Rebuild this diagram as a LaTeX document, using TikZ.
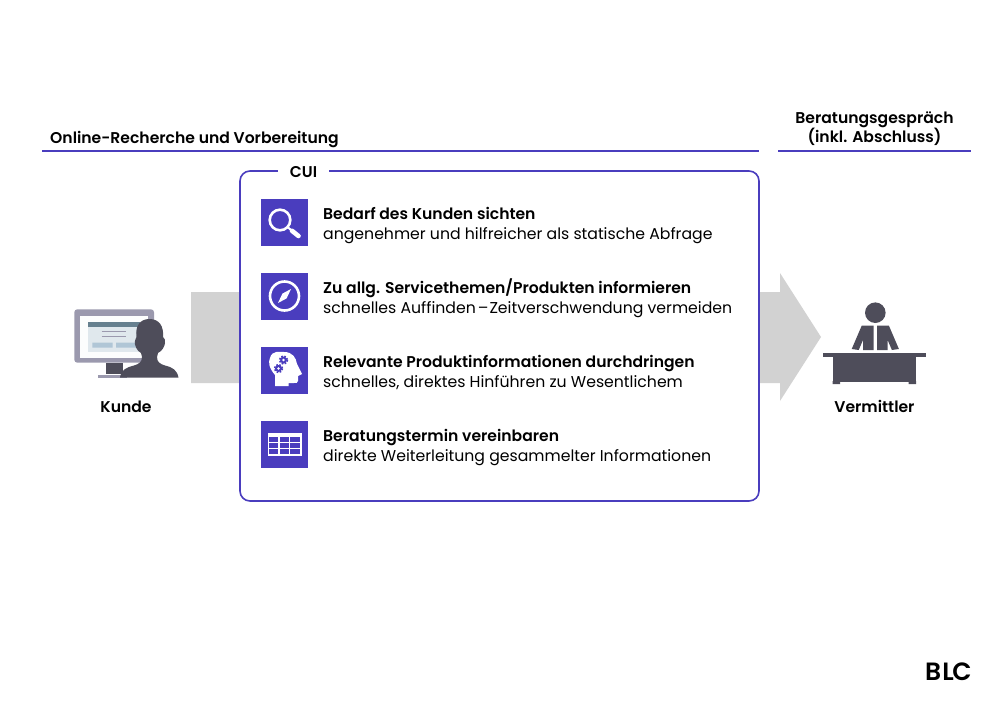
\documentclass[tikz,border=0pt]{standalone}
\usepackage{fontspec}
\setmainfont{Poppins}[BoldFont={Poppins SemiBold}]
\usetikzlibrary{positioning}
\definecolor{cuiblue}{HTML}{4A3DBE}
\definecolor{arrowgray}{HTML}{D2D2D2}
\definecolor{figdark}{HTML}{4E4D5A}
\definecolor{figgray}{HTML}{9B99AE}
\definecolor{screenbar}{HTML}{66808F}
\definecolor{screenpanel}{HTML}{E0E8ED}
\definecolor{screenbtn}{HTML}{B0C6D6}
\tikzset{
  head/.style={anchor=base west,inner sep=0,font=\fontsize{15.6}{19}\selectfont\bfseries,text=black},
  headc/.style={anchor=base,inner sep=0,font=\fontsize{15.6}{19}\selectfont\bfseries,text=black},
  sub/.style={anchor=base west,inner sep=0,font=\fontsize{15.7}{19}\selectfont,text=black},
  iconbox/.style={fill=cuiblue,minimum size=47pt,inner sep=0,outer sep=0},
  rulestyle/.style={draw=cuiblue,line width=1.1pt}
}
\begin{document}
\begin{tikzpicture}[x=1pt,y=-1pt,line join=round]
  \useasboundingbox (0,0) rectangle (1000,707);
  % gray arrow behind the box
  \fill[arrowgray] (191,292)--(780,292)--(780,273)--(821,337)--(780,401)--(780,383)--(191,383)--cycle;
  % phase headings
  \node[head](online) at (50,143) {Online-Recherche und Vorbereitung};
  \node[headc](beratung) at (874.5,123) {Beratungsgespräch};
  \node[headc,below=5pt of beratung.base](inkl) {(inkl. Abschluss)};
  \coordinate (r1a) at (42,151);
  \coordinate (r1b) at (759,151);
  \coordinate (r2a) at (778,151);
  \coordinate (r2b) at (971,151);
  \draw[rulestyle] (r1a)--(r1b);
  \draw[rulestyle] (r2a)--(r2b);
  % main box
  \node[draw=cuiblue,fill=white,line width=1.6pt,rounded corners=10pt,minimum width=519pt,minimum height=330pt,inner sep=0](cui) at (499.5,336) {};
  \node[fill=white,inner sep=0,minimum width=51pt,minimum height=6pt,font=\fontsize{15.6}{19}\selectfont\bfseries](cuilabel) at (303.5,172) {CUI};
  % icon column
  \node[iconbox](icon1) at (284.5,222.5) {};
  \node[iconbox,below=27pt of icon1](icon2) {};
  \node[iconbox,below=27pt of icon2](icon3) {};
  \node[iconbox,below=27pt of icon3](icon4) {};
  % lupe
  \draw[white,line width=2.6pt] (280,220) circle (10.3);
  \draw[white,line width=4.6pt,line cap=round] (292,230.8)--(298.5,236);
  \draw[white,line width=2pt] (287.5,227)--(292,230.8);
  % compass
  \draw[white,line width=2.6pt] (284.5,296) circle (14.5);
  \fill[white] (291,289)--(286.6,298.4)--(278,303)--(282.4,293.6)--cycle;
  % head with gears
  \fill[white] (275,386)--(275,375) .. controls (269,368) and (268,362) .. (270,358)
    .. controls (272,350) and (280,352) .. (284,352) .. controls (293,352) and (296,358) .. (297,364)
    --(302,374)--(298,376)--(298,381) .. controls (298,383) and (296,383) .. (294,383)--(288.5,383)--(288.5,386)--cycle;
  \foreach \gx/\gy in {283.5/360,278.5/368.5}{
    \fill[cuiblue] (\gx,\gy) circle (3.4);
    \draw[cuiblue,line width=1.6pt,dash pattern=on 1.7pt off 1.5pt] (\gx,\gy) circle (4);
    \fill[white] (\gx,\gy) circle (1.3);
  }
  % table
  \fill[white] (267.5,433)rectangle(301.5,456);
  \foreach \cx in {269,279.7,290.4}{
    \foreach \cy in {437,443.2,449.4}{
      \fill[cuiblue] (\cx,\cy) rectangle ++(9.2,4.9);
    }
  }
  % texts beside the icons
  \node[head](t1) at (323,219) {Bedarf des Kunden sichten};
  \node[sub](s1) at (323,239) {angenehmer und hilfreicher als statische Abfrage};
  \node[head](t2) at (323,293) {Zu allg. Servicethemen/Produkten informieren};
  \node[sub](s2) at (323,313) {schnelles Auffinden\kern2pt–\kern1pt Zeitverschwendung vermeiden};
  \node[head](t3) at (323,367) {Relevante Produktinformationen durchdringen};
  \node[sub](s3) at (323,387) {schnelles, direktes Hinführen zu Wesentlichem};
  \node[head](t4) at (323,441) {Beratungstermin vereinbaren};
  \node[sub](s4) at (323,461) {direkte Weiterleitung gesammelter Informationen};
  % customer at the screen
  \fill[figgray,rounded corners=3pt] (74.3,309.3) rectangle (154,362.7);
  \fill[white!92!screenpanel] (80,316) rectangle (148.3,358.3);
  \fill[screenpanel] (88.3,326.7) rectangle (140,351.7);
  \fill[screenbar] (88.3,322) rectangle (140,326.7);
  \draw[figgray,line width=1pt] (101.7,331.7)--(125.7,331.7) (101.7,336)--(125.7,336);
  \fill[screenbtn] (92.3,342.7) rectangle (112.7,347.7) (116,342.7) rectangle (137,347.7);
  \fill[figdark] (106,362.7) rectangle (123,374);
  \fill[figgray] (98.3,375) rectangle (127,377.7);
  \fill[figdark] (120,377.6) .. controls (121,370) and (126,367.5) .. (134,365.5)
    .. controls (139,364) and (142,362) .. (142,357) -- (141,353)
    .. controls (137,351) and (134,345) .. (135,341) .. controls (135.5,339) and (136,338) .. (136.5,337)
    .. controls (135,326) and (140,319) .. (149.5,319) .. controls (159,319) and (164,326) .. (163,337)
    .. controls (164,338) and (166,340) .. (165,343) .. controls (164.5,347) and (162,351) .. (158,353)
    -- (157,357) .. controls (157,362) and (160,364) .. (165,365.5)
    .. controls (173,367.5) and (177,370) .. (178.5,377.6) -- cycle;
  \node[headc](kunde) at (126,412) {Kunde};
  % agent at the desk
  \fill[figdark] (875.3,312.7) circle (10.3);
  \fill[figdark] (861.7,325.7)--(873.5,325.7)--(873.5,350)--(863,350)--(863,340)--(858.7,350)--(851.7,349)--cycle;
  \fill[figdark] (888.9,325.7)--(877.1,325.7)--(877.1,350)--(887.6,350)--(887.6,340)--(891.9,350)--(898.9,349)--cycle;
  \fill[figdark] (823.3,352.7) rectangle (925.7,357);
  \fill[figdark] (832.7,357) rectangle (916,381.7);
  \fill[figdark] (832.7,381) rectangle (840,384) (908.7,381) rectangle (916,384);
  \node[headc](vermittler) at (874.5,412) {Vermittler};
  % logo
  \node[anchor=base west,inner sep=0,font=\fontsize{25}{25}\selectfont\bfseries](blc) at (925,680) {B\kern1pt L\kern-1.5pt C};
\end{tikzpicture}
\end{document}
